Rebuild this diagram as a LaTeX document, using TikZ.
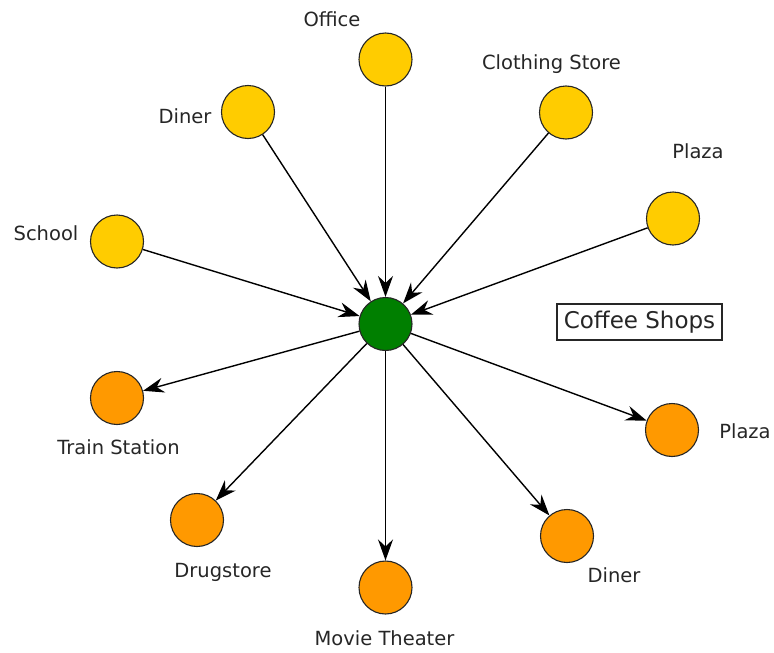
\documentclass[tikz,border=0pt]{standalone}
\usepackage{fontspec}
\setmainfont{DejaVu Sans}
\usetikzlibrary{arrows.meta}
\definecolor{yel}{HTML}{FFCC00}
\definecolor{ora}{HTML}{FF9900}
\definecolor{grn}{HTML}{007F00}
\definecolor{txt}{HTML}{262626}
\begin{document}
\begin{tikzpicture}[x=1pt,y=-1pt,
  place/.style={circle,draw=black!85,line width=1.1pt,minimum size=53pt,inner sep=0pt},
  inplace/.style={place,fill=yel},
  outplace/.style={place,fill=ora},
  hub/.style={place,fill=grn},
  lbl/.style={anchor=base,inner sep=0pt,text=txt,font=\fontsize{19.5}{22}\selectfont},
  link/.style={line width=1.4pt,-{Stealth[length=21pt,width=15pt,inset=7pt]}}]
\useasboundingbox (0,0) rectangle (774,653);
\node[hub] (c) at (385.5,324) {};
\node[inplace] (office) at (385.5,59.5) {};
\node[inplace] (cloth) at (566,112.5) {};
\node[inplace] (plazaA) at (673,218.5) {};
\node[inplace] (dinerA) at (248,112) {};
\node[inplace] (school) at (117,241.5) {};
\node[outplace] (train) at (117,398) {};
\node[outplace] (drug) at (197,520) {};
\node[outplace] (movie) at (385.5,587.5) {};
\node[outplace] (dinerB) at (567,536) {};
\node[outplace] (plazaB) at (672,430) {};
\node[lbl] (lOffice) at (332,27) {Office};
\node[lbl] (lCloth) at (551.5,69) {Clothing Store};
\node[lbl] (lPlazaA) at (698,158) {Plaza};
\node[lbl] (lDinerA) at (185,123) {Diner};
\node[lbl] (lSchool) at (46,240) {School};
\node[lbl] (lTrain) at (118.5,454) {Train Station};
\node[lbl] (lDrug) at (223,577) {Drugstore};
\node[lbl] (lMovie) at (384.5,645) {Movie Theater};
\node[lbl] (lDinerB) at (614,582) {Diner};
\node[lbl] (lPlazaB) at (745,438) {Plaza};
\node[draw=black!85,line width=1.2pt,minimum width=165pt,minimum height=36pt,inner sep=0pt,text=txt,font=\fontsize{23}{26}\selectfont] (legend) at (639.5,322) {Coffee Shops};
\foreach \s in {office,cloth,plazaA,dinerA,school}
  \draw[link] (\s) -- (c);
\foreach \t in {train,drug,movie,dinerB,plazaB}
  \draw[link] (c) -- (\t);
\end{tikzpicture}
\end{document}
